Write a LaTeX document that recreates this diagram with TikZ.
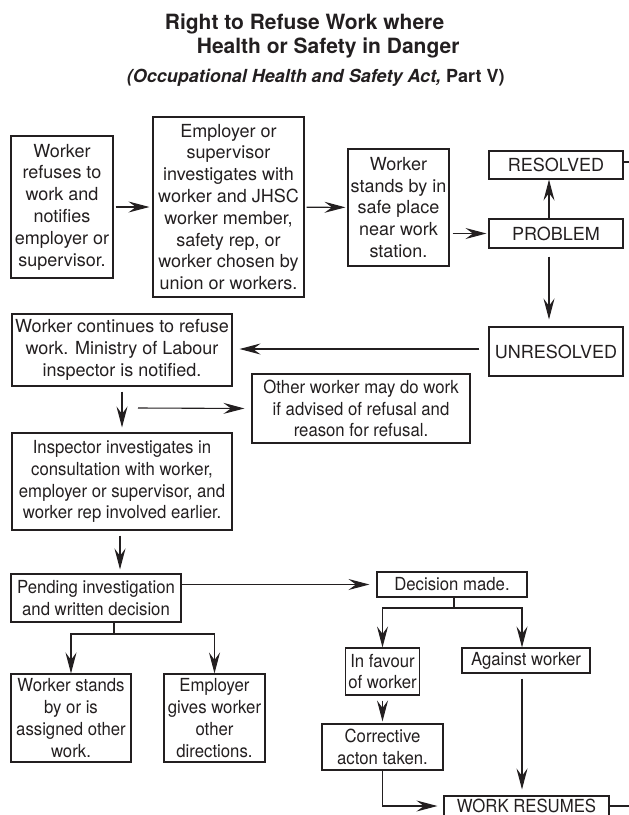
\documentclass[tikz,border=0pt]{standalone}
\usepackage{fontspec}
\setmainfont{TeX Gyre Heros}
\newfontfamily\narrowsf[FakeStretch=0.93]{TeX Gyre Heros}
\usetikzlibrary{arrows.meta}
\definecolor{ink}{RGB}{35,31,32}
\newcommand{\boxfont}{\fontsize{18}{21.8}\selectfont}

\begin{document}
\begin{tikzpicture}[x=1pt, y=-1pt, line width=1.1pt, color=ink,
    box/.style={draw, inner sep=0pt, align=center, font=\boxfont},
    narrowbox/.style={box, font=\narrowsf\boxfont},
    titlefont/.style={font=\bfseries\fontsize{21}{24}\selectfont},
    arr/.style={-{Stealth[length=21pt, width=11pt, inset=7.5pt]}}]
  \useasboundingbox (0,0) rectangle (629,815);
  \clip (0,0) rectangle (629,815);

  % Title
  \node[anchor=base west, titlefont] (title1) at (161,29) {Right to Refuse Work where};
  \node[anchor=base west, titlefont] (title2) at (193,53) {Health or Safety in Danger};
  \node[anchor=base west, font=\bfseries\fontsize{18}{21}\selectfont] (subtitle) at (123,82) {\itshape(Occupational Health and Safety Act,\upshape\ Part V)};

  % Top row
  \node[box, minimum width=102, minimum height=142] (refuse) at (62,207)
    {Worker\\refuses to\\work and\\notifies\\employer or\\supervisor.};
  \node[box, minimum width=151, minimum height=180] (investigate) at (228.5,207)
    {Employer or\\supervisor\\investigates with\\worker and JHSC\\worker member,\\safety rep, or\\worker chosen by\\union or workers.};
  \node[box, minimum width=101, minimum height=117] (standby) at (398.5,207.5)
    {Worker\\stands by in\\safe place\\near work\\station.};
  \node[box, minimum width=134, minimum height=28] (resolved) at (556,165) {RESOLVED};
  \node[box, minimum width=134, minimum height=29] (problem) at (556,233.5) {PROBLEM};
  \node[box, minimum width=134, minimum height=49] (unresolved) at (556,351.5) {UNRESOLVED};

  % Ministry of Labour
  \node[box, minimum width=220, minimum height=72] (continue) at (122,350)
    {Worker continues to refuse\\work. Ministry of Labour\\inspector is notified.};
  \node[narrowbox, minimum width=218, minimum height=69] (otherwork) at (361,408.5)
    {Other worker may do work\\if advised of refusal and\\reason for refusal.};
  \node[narrowbox, minimum width=220, minimum height=97] (inspector) at (122,481.5)
    {Inspector investigates in\\consultation with worker,\\employer or supervisor, and\\worker rep involved earlier.};

  % Decision
  \node[narrowbox, minimum width=170, minimum height=48] (pending) at (96,598)
    {Pending investigation\\and written decision};
  \node[narrowbox, minimum width=120, minimum height=88] (standsby) at (71,718)
    {Worker stands\\by or is\\assigned other\\work.};
  \node[narrowbox, minimum width=101, minimum height=88] (directions) at (214.5,718)
    {Employer\\gives worker\\other\\directions.};
  \node[narrowbox, minimum width=150, minimum height=25] (decision) at (452,584.5) {Decision made.};
  \node[narrowbox, minimum width=74, minimum height=47] (favour) at (382.5,671.5) {In favour\\of worker};
  \node[narrowbox, minimum width=128, minimum height=25] (against) at (526,660.5) {Against worker};
  \node[narrowbox, minimum width=121, minimum height=46] (corrective) at (382.5,747) {Corrective\\acton taken.};
  \node[narrowbox, minimum width=165, minimum height=20] (resumes) at (526.5,806) {WORK RESUMES};

  % Connectors
  \coordinate (resout) at (629,162);
  \coordinate (aside) at (138,408);
  \coordinate (pfork) at (114,634);
  \coordinate (dfork) at (454,608);
  \coordinate (resumesout) at (629,806);

  \draw[arr, shorten <=2pt, shorten >=3pt] (refuse) -- (investigate);
  \draw[arr, shorten <=2pt, shorten >=2pt] (investigate) -- (standby);
  \draw[arr, shorten <=3pt, shorten >=2pt] (standby.east |- problem.west) -- (problem.west);
  \draw[arr] ([xshift=-7pt]problem.north) -- ([xshift=-7pt]resolved.south);
  \draw[arr, shorten <=8pt, shorten >=7pt] ([xshift=-7pt]problem.south) -- ([xshift=-7pt]unresolved.north);
  \draw ([yshift=3pt]resolved.east) -- (resout);
  \draw[arr, shorten <=9pt, shorten >=7pt] ([yshift=2.5pt]unresolved.west) -- ([yshift=2.5pt]unresolved.west -| continue.east);
  \draw[arr, shorten <=5pt, shorten >=5pt] (continue) -- (inspector);
  \draw[arr, shorten >=7pt] (aside) -- (otherwork.west);
  \draw[arr, shorten <=5pt, shorten >=4pt] ([xshift=-2pt]inspector.south) -- ([xshift=-2pt]inspector.south |- pending.north);
  \draw[arr, shorten >=7pt] (pending.east |- decision.west) -- (decision.west);
  \draw ([xshift=18pt]pending.south) -- (pfork);
  \draw[arr] (pfork) -| (standsby.north);
  \draw[arr] (pfork) -| (directions.north);
  \draw ([xshift=2pt]decision.south) -- (dfork);
  \draw[arr] (dfork) -| (favour.north);
  \draw[arr] (dfork) -| ([xshift=-4pt]against.north);
  \draw[arr, shorten <=5pt, shorten >=2pt] (favour) -- (corrective);
  \draw[arr, shorten <=5pt, shorten >=6pt] ([xshift=-4pt]against.south) -- ([xshift=-4pt]against.south |- resumes.north);
  \draw[arr, shorten >=6pt] (corrective.south) |- (resumes.west);
  \draw (resumes.east) -- (resumesout);
\end{tikzpicture}
\end{document}
